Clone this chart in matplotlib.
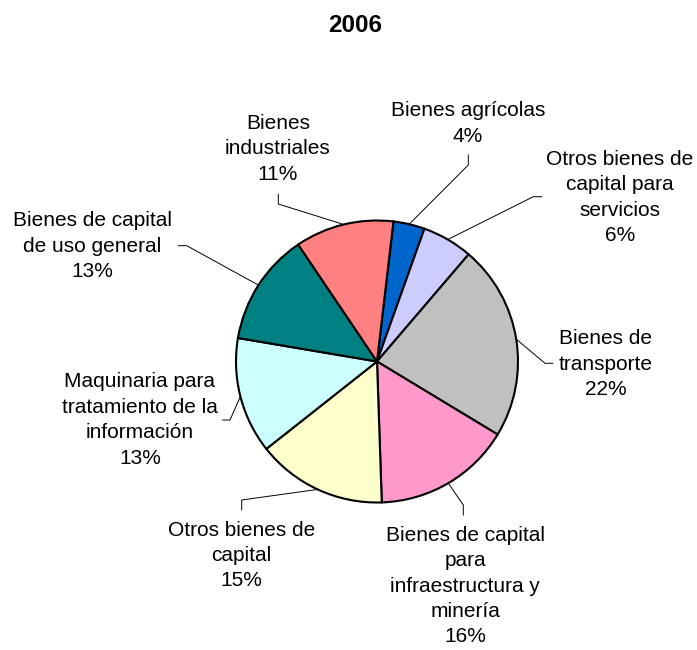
import matplotlib.pyplot as plt
import numpy as np

plt.rcParams['font.family'] = ['Liberation Sans', 'DejaVu Sans']

# Data (share of total, 2006)
categories = ['Bienes agrícolas', 'Otros bienes de\ncapital para\nservicios', 'Bienes de\ntransporte',
              'Bienes de capital\npara\ninfraestructura y\nminería', 'Otros bienes de\ncapital',
              'Maquinaria para\ntratamiento de la\ninformación', 'Bienes de capital\nde uso general',
              'Bienes\nindustriales']
values = [3.6, 5.8, 22.4, 15.8, 14.9, 13.3, 12.9, 11.3]
pct_labels = ['4%', '6%', '22%', '16%', '15%', '13%', '13%', '11%']
colors = ['#0066CC', '#CCCCFF', '#C0C0C0', '#FF99CC', '#FFFFCC', '#CCFFFF', '#008080', '#FF8080']

W, H = 697, 650
fig = plt.figure(figsize=(W / 100, H / 100), dpi=100)
ax = fig.add_axes([0, 0, 1, 1])

cx, cy, r = 377, H - 361.5, 141
wedges, _ = ax.pie(values, colors=colors, startangle=83.3, counterclock=False,
                   center=(cx, cy), radius=r, frame=True,
                   wedgeprops=dict(edgecolor='black', linewidth=1.5))
ax.set_xlim(0, W)
ax.set_ylim(0, H)
ax.axis('off')

# label placement (pixel coords from top): text center, elbow, stub end
label_pos = [(468, 123.5), (620, 197.5), (605.5, 364), (465, 586),
             (241.7, 555.5), (140, 420), (92.5, 246), (278, 149)]
elbows = [(468.3, 165), (533.3, 196.7), (545, 363.3), (463.3, 505),
          (241.7, 500), (230, 420), (186.7, 245.7), (278.3, 204)]
stubs = [(468.3, 155), (541.7, 196.7), (552.7, 363.3), (463.3, 515),
         (241.7, 510), (222.7, 420), (178.3, 245.7), (278.3, 194.3)]

for w, cat, pct, (tx, ty), (ex, ey), (sx, sy) in zip(wedges, categories, pct_labels,
                                                     label_pos, elbows, stubs):
    mid = np.deg2rad((w.theta1 + w.theta2) / 2)
    px, py = cx + r * np.cos(mid), cy + r * np.sin(mid)
    ax.plot([px, ex, sx], [py, H - ey, H - sy], color='black', linewidth=0.7)
    ax.text(tx, H - ty, cat + '\n' + pct, ha='center', va='center',
            fontsize=15, linespacing=1.43)

ax.text(355, H - 25, '2006', ha='center', va='center', fontsize=17.5, fontweight='bold')

fig.savefig('out.png', dpi=100)
